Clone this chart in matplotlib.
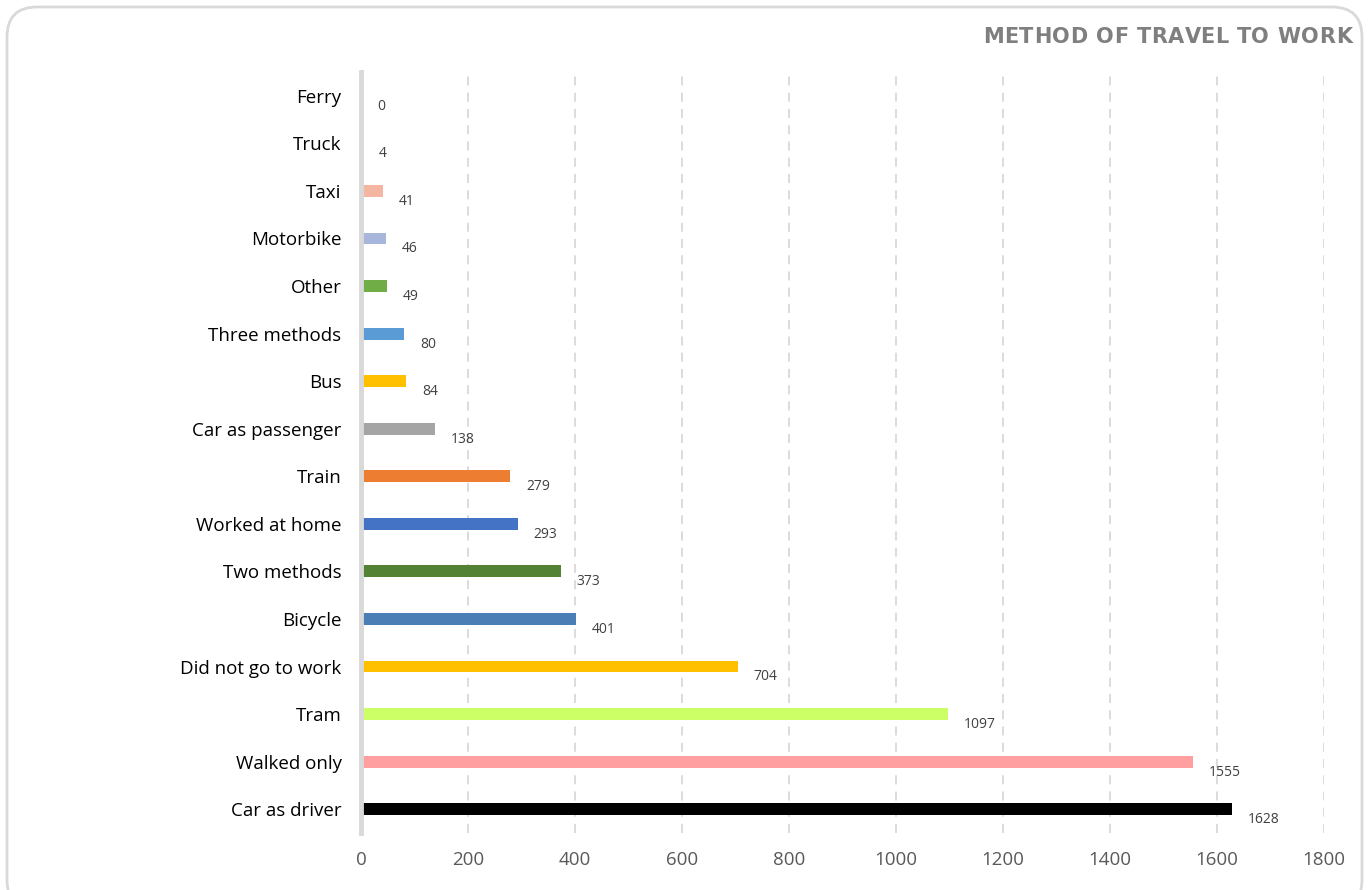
import matplotlib
matplotlib.use("Agg")
import matplotlib.pyplot as plt
from matplotlib.patches import FancyBboxPatch
from matplotlib.textpath import TextPath
from matplotlib.font_manager import FontProperties

categories = ["Car as driver", "Walked only", "Tram", "Did not go to work", "Bicycle",
              "Two methods", "Worked at home", "Train", "Car as passenger", "Bus",
              "Three methods", "Other", "Motorbike", "Taxi", "Truck", "Ferry"]
values = [1628, 1555, 1097, 704, 401, 373, 293, 279, 138, 84, 80, 49, 46, 41, 4, 0]
colors = ["#000000", "#ff9f9f", "#ccff66", "#ffc000", "#4a7eb4",
          "#548235", "#4472c4", "#ed7d31", "#a5a5a5", "#ffc000",
          "#5b9bd5", "#70ad47", "#a9b6dc", "#f4b6a0", "#d9d9d9", "#d9d9d9"]
xticks = [0, 200, 400, 600, 800, 1000, 1200, 1400, 1600, 1800]
title = "METHOD OF TRAVEL TO WORK"

plt.rcParams["font.family"] = ["Open Sans", "DejaVu Sans"]

W, H, DPI = 1368, 890, 100
fig = plt.figure(figsize=(W / DPI, H / DPI), dpi=DPI)
ax = fig.add_axes([361 / W, 1 - 833 / H, (1324 - 361) / W, (833 - 72) / H])

ypos = list(range(len(categories)))
ax.barh(ypos, values, height=0.25, color=colors, zorder=3)

for y, v in zip(ypos, values):
    ax.annotate(str(v), xy=(v, y), xytext=(11.5, -7.5), textcoords="offset points",
                ha="left", va="center", fontsize=10, color="#404040")

ax.set_xlim(0, 1800)
ax.set_ylim(-0.5, len(categories) - 0.5)
ax.set_xticks(xticks)
ax.set_xticklabels([str(t) for t in xticks], fontsize=13.5, color="#595959")
ax.set_yticks(ypos)
ax.set_yticklabels(categories, fontsize=13.5, color="#000000")
ax.tick_params(axis="both", length=0)
ax.tick_params(axis="x", pad=13)
ax.tick_params(axis="y", pad=14)

ax.grid(axis="x", color="#d9d9d9", linestyle=(0, (5, 4)), linewidth=1.3, zorder=0)
for s in ["top", "right", "bottom"]:
    ax.spines[s].set_visible(False)
ax.spines["left"].set_color("#d9d9d9")
ax.spines["left"].set_linewidth(3.5)
ax.spines["left"].set_zorder(4)

# Title, lightly letter-spaced and right-aligned near the top-right corner
tfont = FontProperties(family="DejaVu Sans", weight="bold", size=15)
px_per_pt = DPI / 72.0
bar_x1 = TextPath((0, 0), "|", prop=tfont).get_extents().x1
prefix_w = [0.0]
for i in range(1, len(title) + 1):
    tp = TextPath((0, 0), title[:i] + "|", prop=tfont)
    prefix_w.append((tp.get_extents().x1 - bar_x1) * px_per_pt)
x_left, x_right = 983, 1352
tracking = ((x_right - x_left) - prefix_w[-1]) / (len(title) - 1)
tracking = min(max(tracking, -1.0), 3.0)
start = x_right - (prefix_w[-1] + tracking * (len(title) - 1))
y_title = 1 - 37 / H
for i, ch in enumerate(title):
    if ch == " ":
        continue
    xp = start + prefix_w[i] + tracking * i
    fig.text(xp / W, y_title, ch, ha="left", va="center", fontproperties=tfont,
             color="#7f7f7f")

border = FancyBboxPatch((7 / W, -20 / H), 1355 / W, 903 / H,
                        boxstyle="round,pad=0,rounding_size=0.022",
                        transform=fig.transFigure, facecolor="none",
                        edgecolor="#d9d9d9", linewidth=2, mutation_aspect=W / H)
fig.patches.append(border)

fig.savefig("out.png", dpi=DPI)
